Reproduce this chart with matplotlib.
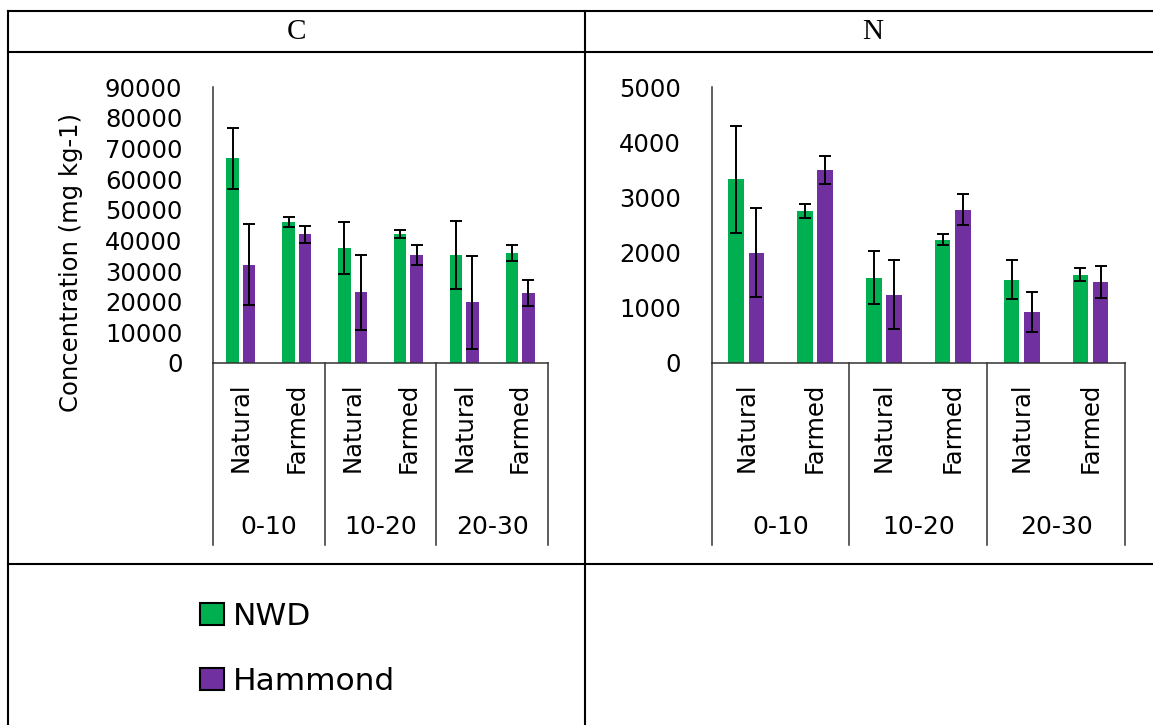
import matplotlib.pyplot as plt
import numpy as np
from matplotlib.lines import Line2D
from matplotlib.patches import Patch
from matplotlib.transforms import blended_transform_factory

# Soil concentrations by depth and land use
depths = ['0-10', '10-20', '20-30']
uses = ['Natural', 'Farmed']

c_nwd = [66700, 46000, 37500, 42000, 35200, 35900]
c_nwd_err = [10000, 1700, 8600, 1400, 11000, 2600]
c_ham = [32000, 42000, 23000, 35200, 19800, 22800]
c_ham_err = [13200, 2800, 12200, 3200, 15100, 4300]

n_nwd = [3330, 2760, 1545, 2230, 1510, 1600]
n_nwd_err = [970, 125, 480, 100, 350, 120]
n_ham = [2000, 3500, 1240, 2775, 930, 1470]
n_ham_err = [810, 250, 625, 280, 360, 290]

green = '#00B050'
purple = '#7030A0'
W, H = 1153, 725

plt.rcParams['font.family'] = ['DejaVu Sans']

fig = plt.figure(figsize=(W / 100, H / 100), dpi=100)


def px_box(x0, x1, y0, y1):
    return [x0 / W, 1 - y1 / H, (x1 - x0) / W, (y1 - y0) / H]


def draw_panel(rect, nwd, nwd_err, ham, ham_err, ymax, step):
    ax = fig.add_axes(rect)
    x = np.arange(len(nwd))
    off, bw = 0.147, 0.225
    ekw = dict(ecolor='black', elinewidth=1.4, capsize=4.5, capthick=1.4)
    ax.bar(x - off, nwd, bw, color=green, yerr=nwd_err, error_kw=ekw)
    ax.bar(x + off, ham, bw, color=purple, yerr=ham_err, error_kw=ekw)
    ax.set_xlim(-0.5, len(nwd) - 0.5)
    ax.set_ylim(0, ymax)
    ax.set_yticks(np.arange(0, ymax + 1, step))
    ax.set_yticklabels([f'{int(v)}' for v in np.arange(0, ymax + 1, step)])
    ax.tick_params(axis='y', length=0, pad=22, labelsize=17.5)
    ax.set_xticks([])
    for s in ['top', 'right']:
        ax.spines[s].set_visible(False)
    for s in ['left', 'bottom']:
        ax.spines[s].set_color('#333333')
        ax.spines[s].set_linewidth(1.1)

    tr = blended_transform_factory(ax.transData, ax.transAxes)
    # category labels: land use rotated, depth below
    for i in x:
        ax.text(i, -0.072, uses[i % 2], rotation=90, ha='center', va='top',
                fontsize=17.5, transform=tr)
    for g, d in enumerate(depths):
        ax.text(2 * g + 0.5, -0.594, d, ha='center', va='center',
                fontsize=18, transform=tr)
    for b in [-0.5, 1.5, 3.5, 5.5]:
        ax.plot([b, b], [0, -0.659], color='#333333', lw=1.1,
                transform=tr, clip_on=False)
    return ax


draw_panel(px_box(213, 548, 87, 363), c_nwd, c_nwd_err, c_ham, c_ham_err, 90000, 10000)
draw_panel(px_box(711.7, 1125, 87, 363), n_nwd, n_nwd_err, n_ham, n_ham_err, 5000, 1000)

fig.text(71 / W, 1 - 263 / H, 'Concentration (mg kg-1)', rotation=90,
         ha='center', va='center', fontsize=17.5)

# table grid around the panels
def hline(y, x0=8, x1=W + 10):
    fig.add_artist(Line2D([x0 / W, x1 / W], [1 - y / H, 1 - y / H],
                          color='black', lw=1.5, transform=fig.transFigure))


def vline(x, y0=11, y1=H + 10):
    fig.add_artist(Line2D([x / W, x / W], [1 - y0 / H, 1 - y1 / H],
                          color='black', lw=1.5, transform=fig.transFigure))


hline(11)
hline(52)
hline(564)
vline(8)
vline(585)

fig.text(296.5 / W, 1 - 32 / H, 'C', ha='center', va='center',
         fontsize=21, family='Liberation Serif')
fig.text(873 / W, 1 - 32 / H, 'N', ha='center', va='center',
         fontsize=21, family='Liberation Serif')

handles = [Patch(facecolor=green, edgecolor='black', lw=1.5, label='NWD'),
           Patch(facecolor=purple, edgecolor='black', lw=1.5, label='Hammond')]
fig.legend(handles=handles, loc='upper left',
           bbox_to_anchor=(200 / W, 1 - 602 / H), frameon=False,
           fontsize=22.5, handlelength=0.76, handleheight=0.7,
           handletextpad=0.3, labelspacing=1.15, borderpad=0,
           borderaxespad=0)

fig.savefig('out.png', dpi=100)
